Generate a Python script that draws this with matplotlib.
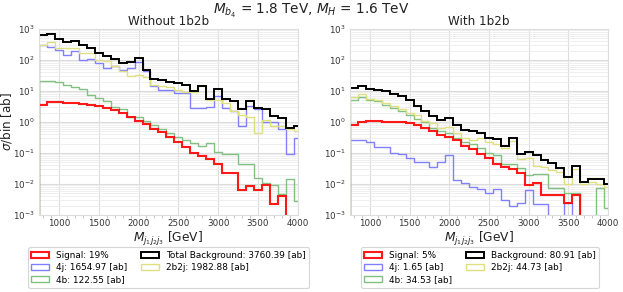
import numpy as np
import matplotlib
matplotlib.use("Agg")
import matplotlib.pyplot as plt
from matplotlib.ticker import LogLocator, MultipleLocator, NullFormatter

# ---------------- data ----------------
bin_edges = np.arange(750, 4051, 100)          # GeV
bin_centers = (bin_edges[:-1] + bin_edges[1:]) / 2

# Without 1b2b  [ab / bin]
left_signal = [3.6, 4.3, 4.3, 4.2, 4.1, 3.9, 3.6, 3.4, 2.8, 2.5, 1.9, 1.4, 1.1, 0.88, 0.6,
               0.46, 0.32, 0.22, 0.16, 0.1, 0.078, 0.065, 0.045, 0.022, 0.022, 0.0065, 0.0085,
               0.0065, 0.009, 0.0022, 0.0042, 0, 0]
left_4j = [310, 256, 215, 148, 190, 103, 108, 80, 55, 63, 49, 55, 84, 43, 15, 11, 11, 8.7, 8.5,
           2.8, 2.8, 3.0, 6.7, 2.8, 2.2, 0.75, 3.4, 2.6, 1.0, 1.0, 0.6, 0.09, 0.3]
left_4b = [21.5, 21.5, 19, 16, 13.5, 11.5, 7.6, 5.9, 4.7, 3.0, 2.7, 1.5, 1.4, 1.1, 0.82,
           0.6, 0.45, 0.33, 0.27, 0.21, 0.17, 0.21, 0.105, 0.095, 0.09, 0.045, 0.045, 0.016,
           0.011, 0.0095, 0.0048, 0.014, 0.0028]
left_2b2j = [310, 370, 245, 245, 245, 168, 168, 103, 91, 63, 43, 30, 34, 28, 16, 15, 13.5, 11,
             9.5, 9.5, 14, 5.3, 5.3, 4.1, 2.2, 1.7, 1.5, 0.45, 1.2, 0.75, 0.75, 0.6, 0.5]
left_total = [650, 700, 480, 390, 420, 300, 240, 165, 135, 108, 82, 88, 118, 48, 24, 23, 19,
              18, 16, 9.8, 15, 5.5, 11.5, 5.5, 4.6, 2.6, 4.6, 2.8, 2.6, 1.6, 1.3, 0.65, 0.74]

# With 1b2b  [ab / bin]
right_signal = [0.82, 0.98, 1.05, 1.05, 1.02, 1.0, 0.98, 0.93, 0.82, 0.64, 0.5, 0.39, 0.33,
                0.27, 0.17, 0.135, 0.095, 0.07, 0.045, 0.035, 0.03, 0.022, 0.0095, 0.011,
                0.0045, 0.0045, 0.0045, 0.0025, 0.0045, 0, 0, 0, 0]
right_4j = [0.27, 0.27, 0.22, 0.155, 0.155, 0.1, 0.095, 0.07, 0.053, 0.05, 0.035, 0.053, 0.087,
            0.013, 0.011, 0.008, 0.007, 0.005, 0.007, 0.003, 0.002, 0.0025, 0.0062, 0.0022,
            0.0022, 0, 0, 0.0025, 0.0009, 0, 0, 0, 0]
right_4b = [5.3, 6.3, 5.2, 4.7, 3.6, 2.8, 2.2, 1.7, 1.25, 0.98, 0.64, 0.5, 0.45, 0.3, 0.22,
            0.2, 0.15, 0.1, 0.087, 0.045, 0.045, 0.033, 0.02, 0.021, 0.021, 0.0075, 0.0075,
            0.005, 0.005, 0, 0, 0.0075, 0.0017]
right_2b2j = [6.3, 8.3, 5.5, 5.0, 4.1, 3.4, 2.6, 1.95, 1.7, 1.05, 0.93, 0.64, 0.69, 0.45, 0.3,
              0.27, 0.3, 0.22, 0.2, 0.14, 0.25, 0.066, 0.07, 0.039, 0.035, 0.028, 0.025, 0.01,
              0.03, 0.01, 0.012, 0.01, 0.008]
right_total = [12.6, 14.9, 11.5, 10.5, 9.7, 8.1, 6.7, 5.2, 3.4, 2.2, 1.6, 1.2, 1.35, 0.82,
               0.54, 0.5, 0.45, 0.3, 0.28, 0.17, 0.3, 0.095, 0.11, 0.087, 0.06, 0.047, 0.032,
               0.017, 0.037, 0.012, 0.0145, 0.0145, 0.01]

left_labels = ["Signal: 19%", "4j: 1654.97 [ab]", "4b: 122.55 [ab]",
               "Total Background: 3760.39 [ab]", "2b2j: 1982.88 [ab]"]
right_labels = ["Signal: 5%", "4j: 1.65 [ab]", "4b: 34.53 [ab]",
                "Background: 80.91 [ab]", "2b2j: 44.73 [ab]"]
titles = ["Without 1b2b", "With 1b2b"]
suptitle = r"$M_{b_4}$ = 1.8 TeV, $M_H$ = 1.6 TeV"

# ---------------- styling ----------------
plt.rcParams['font.family'] = ['DejaVu Sans']
colors = {
    'signal': '#ff0000',
    '4j': '#8080ff',
    '4b': '#80c080',
    'total': '#000000',
    '2b2j': '#dfdf80',
}

fig = plt.figure(figsize=(6.23, 2.92), dpi=100)
ax_l = fig.add_axes([0.0626, 0.2637, 0.4154, 0.637])
ax_r = fig.add_axes([0.5618, 0.2637, 0.4142, 0.637])

panels = [
    (ax_l, left_signal, left_4j, left_4b, left_total, left_2b2j, left_labels, 0.2705),
    (ax_r, right_signal, right_4j, right_4b, right_total, right_2b2j, right_labels, 0.7705),
]

for i, (ax, sig, j4, b4, tot, b2j2, labels, lx) in enumerate(panels):
    ax.set_yscale('log')
    ax.set_facecolor('white')
    h = {}
    h['4j'] = ax.hist(bin_centers, bins=bin_edges, weights=j4, histtype='step',
                      color=colors['4j'], lw=1.0, log=True)[2][0]
    h['4b'] = ax.hist(bin_centers, bins=bin_edges, weights=b4, histtype='step',
                      color=colors['4b'], lw=1.0, log=True)[2][0]
    h['2b2j'] = ax.hist(bin_centers, bins=bin_edges, weights=b2j2, histtype='step',
                        color=colors['2b2j'], lw=1.0, log=True)[2][0]
    h['total'] = ax.hist(bin_centers, bins=bin_edges, weights=tot, histtype='step',
                         color=colors['total'], lw=1.4, log=True)[2][0]
    h['signal'] = ax.hist(bin_centers, bins=bin_edges, weights=sig, histtype='step',
                          color=colors['signal'], lw=1.5, alpha=0.9, log=True)[2][0]
    ax.set_xlim(750, 4000)
    ax.set_ylim(1e-3, 1e3)
    ax.xaxis.set_major_locator(MultipleLocator(500))
    ax.xaxis.set_minor_locator(MultipleLocator(100))
    ax.yaxis.set_major_locator(LogLocator(base=10, numticks=10))
    ax.yaxis.set_minor_locator(LogLocator(base=10, subs=np.arange(2, 10), numticks=100))
    ax.yaxis.set_minor_formatter(NullFormatter())
    ax.grid(True, which='major', color='#dcdcdc', lw=0.8)
    ax.grid(True, which='minor', axis='y', color='#ececec', lw=0.6)
    ax.set_axisbelow(True)
    for s in ax.spines.values():
        s.set_color('#dddddd')
        s.set_linewidth(0.8)
    ax.tick_params(axis='both', which='major', labelsize=6.3, colors='#333333', length=0, pad=3)
    ax.tick_params(axis='x', which='minor', length=2, color='#bbbbbb', bottom=True)
    ax.tick_params(axis='y', which='minor', length=0)
    ax.set_title(titles[i], fontsize=8.6, pad=3, color='#222222')
    ax.set_xlabel(r"$M_{j_1j_2j_3}$ [GeV]", fontsize=8.8, labelpad=1, color='#222222')
    handles = [h['signal'], h['4j'], h['4b'], h['total'], h['2b2j']]
    leg = fig.legend(handles, labels, ncol=2, fontsize=6.4, loc='center',
                     bbox_to_anchor=(lx, 0.084), frameon=True, fancybox=True,
                     handlelength=2.0, handleheight=0.7, columnspacing=1.6,
                     labelspacing=0.35, borderpad=0.4, handletextpad=0.75,
                     borderaxespad=0.0)
    leg.get_frame().set_edgecolor('#cccccc')
    leg.get_frame().set_linewidth(0.8)

ax_l.set_ylabel(r"$\sigma$/bin [ab]", fontsize=8.6, color='#222222')
ax_l.yaxis.set_label_coords(-0.095, 0.5)
fig.suptitle(suptitle, fontsize=9.8, y=0.995, color='#222222')

fig.savefig("out.png", dpi=100)
